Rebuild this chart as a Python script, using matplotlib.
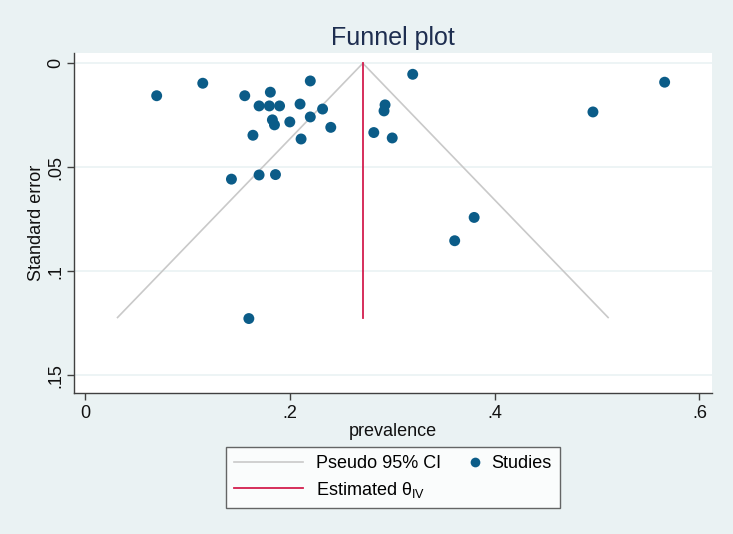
import matplotlib.pyplot as plt
from matplotlib.lines import Line2D
from matplotlib.legend_handler import HandlerLine2DCompound

plt.rcParams["font.family"] = ["Liberation Sans", "DejaVu Sans"]
plt.rcParams["mathtext.fontset"] = "custom"
plt.rcParams["mathtext.rm"] = "Liberation Sans"

# study estimates
prevalence = [0.070, 0.115, 0.156, 0.181, 0.170, 0.180, 0.190, 0.220, 0.210,
              0.232, 0.183, 0.185, 0.200, 0.220, 0.240, 0.164, 0.211, 0.143,
              0.170, 0.186, 0.320, 0.293, 0.292, 0.282, 0.300, 0.566, 0.496,
              0.380, 0.361, 0.160]
std_err = [0.0156, 0.0096, 0.0156, 0.0139, 0.0205, 0.0205, 0.0205, 0.0085, 0.0196,
           0.0220, 0.0272, 0.0296, 0.0282, 0.0258, 0.0308, 0.0346, 0.0364, 0.0557,
           0.0537, 0.0535, 0.0053, 0.0200, 0.0229, 0.0333, 0.0359, 0.0091, 0.0234,
           0.0741, 0.0853, 0.1227]
theta_iv = 0.2713
se_max = 0.1222

x_ticks = [0, 0.2, 0.4, 0.6]
x_ticklabels = ["0", ".2", ".4", ".6"]
y_ticks = [0, 0.05, 0.1, 0.15]
y_ticklabels = ["0", ".05", ".1", ".15"]

bg = "#EAF2F3"
dot_col = "#0B5C88"
ci_col = "#C9C9C9"
est_col = "#D31E4E"


class RightMarker(HandlerLine2DCompound):
    # put the legend dot near the right end of its handle slot
    def get_xdata(self, legend, xdescent, ydescent, width, height, fontsize):
        return [-xdescent, -xdescent + width], [-xdescent + width - 0.2 * fontsize]


fig = plt.figure(figsize=(7.33, 5.34), dpi=100, facecolor=bg)
ax = fig.add_axes([0.101, 0.264, 0.870, 0.637])
ax.set_facecolor("white")

# pseudo 95% CI funnel
half = 1.96 * se_max
ax.plot([theta_iv - half, theta_iv, theta_iv + half], [se_max, 0, se_max],
        color=ci_col, lw=1.2, zorder=2)
ax.plot([theta_iv, theta_iv], [0, se_max], color=est_col, lw=1.3, zorder=3)
ax.scatter(prevalence, std_err, s=62, color=dot_col, edgecolor="none", zorder=4)

ax.set_xlim(-0.0107, 0.612)
ax.set_ylim(0.1585, -0.005)
ax.set_xticks(x_ticks)
ax.set_xticklabels(x_ticklabels)
ax.set_yticks(y_ticks)
ax.set_yticklabels(y_ticklabels, rotation=90, va="center")
ax.grid(axis="y", color=bg, lw=1.2, zorder=0)
ax.set_axisbelow(True)

for s in ["top", "right"]:
    ax.spines[s].set_visible(False)
for s in ["left", "bottom"]:
    ax.spines[s].set_color("#404040")
    ax.spines[s].set_linewidth(1.0)
ax.tick_params(axis="both", labelsize=13, length=5, width=1.0, color="#404040",
               labelcolor="#111111")
ax.tick_params(axis="y", pad=2)

ax.set_xlabel("prevalence", fontsize=13, color="#111111", labelpad=1)
ax.set_ylabel("Standard error", fontsize=13, color="#111111", labelpad=2)
ax.set_title("Funnel plot", fontsize=18, color="#1E2E50", pad=6)

dot = Line2D([], [], color=dot_col, marker="o", ls="none", markersize=7,
             markeredgecolor="none")
handles = [
    Line2D([], [], color=ci_col, lw=1.2),
    Line2D([], [], color=est_col, lw=1.3),
    dot,
]
labels = ["Pseudo 95% CI", r"Estimated θ$_{\mathrm{IV}}$", "Studies"]
leg = fig.legend(handles, labels, ncol=2, loc="center",
                 bbox_to_anchor=(0.536, 0.106), fontsize=13, frameon=True,
                 fancybox=False, edgecolor="#404040", facecolor="white",
                 handlelength=3.8, columnspacing=-1.7, borderpad=0.45,
                 labelspacing=0.4, handletextpad=0.7,
                 handler_map={dot: RightMarker()})
leg.get_frame().set_linewidth(1.0)

fig.savefig("out.png", dpi=100, facecolor=bg)
